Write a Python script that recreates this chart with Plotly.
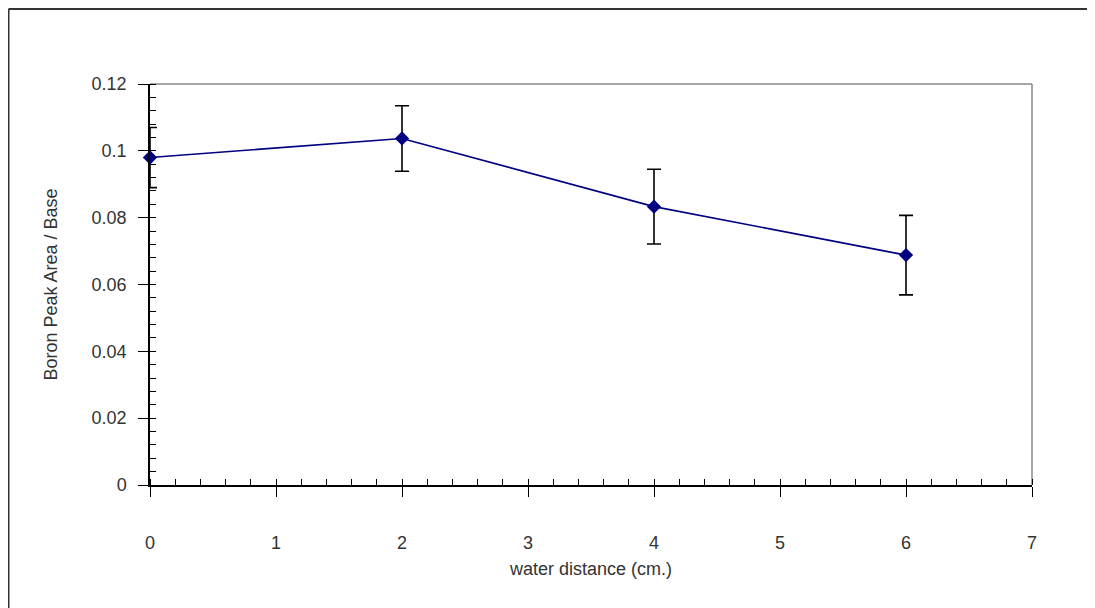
import plotly.graph_objects as go

distance = [0, 2, 4, 6]
ratio = [0.0980, 0.1037, 0.0833, 0.0688]
ratio_err = [0.0090, 0.0098, 0.0112, 0.0119]
x_ticks = [0, 1, 2, 3, 4, 5, 6, 7]
y_ticks = [0, 0.02, 0.04, 0.06, 0.08, 0.1, 0.12]
y_tick_text = ["0", "0.02", "0.04", "0.06", "0.08", "0.1", "0.12"]

# page body has an 8px margin, so the figure is drawn offset by 8px
OFF = 8
W, H = 1095 - OFF, 608 - OFF
L, R, T, B = 150 - OFF, 1032 - OFF, 84 - OFF, 485.5 - OFF

font = dict(family="Liberation Sans, Arial, sans-serif", size=18, color="#333333")

fig = go.Figure()
fig.add_trace(go.Scatter(
    x=distance, y=ratio, mode="lines+markers",
    line=dict(color="#000080", width=1.6),
    marker=dict(symbol="diamond", size=11, color="#000080"),
    error_y=dict(type="data", array=ratio_err, visible=True,
                 color="black", thickness=1.6, width=7),
    showlegend=False, cliponaxis=False,
))
# invisible trace on overlay axis for inside major x ticks
fig.add_trace(go.Scatter(x=[0], y=[0], xaxis="x2", mode="markers",
                         marker=dict(opacity=0), showlegend=False,
                         hoverinfo="skip"))

pw = R - L
ph = B - T
def px(xp):
    return (xp - L) / pw
def py(yp):
    return (B - yp) / ph

fig.update_layout(
    width=W, height=H,
    margin=dict(l=L, r=W - R, t=T, b=H - B, pad=0),
    paper_bgcolor="white", plot_bgcolor="white",
    font=font,
    xaxis=dict(
        range=[0, 7], tickvals=x_ticks, ticks="outside", ticklen=10,
        tickcolor="black", tickwidth=1, showgrid=False, zeroline=False,
        showline=True, linecolor="black", linewidth=1.5,
        ticklabelstandoff=31,
        minor=dict(dtick=0.2, ticks="inside", ticklen=6, tickcolor="black",
                   tickwidth=1, showgrid=False),
        title=dict(text="water distance (cm.)", font=dict(size=18, color="#333333"),
                   standoff=10),
    ),
    xaxis2=dict(
        range=[0, 7], tickvals=x_ticks, ticks="inside", ticklen=6,
        tickcolor="black", tickwidth=1, showticklabels=False,
        showgrid=False, zeroline=False, showline=False,
        overlaying="x", anchor="y", side="bottom",
    ),
    yaxis=dict(
        range=[0, 0.12], tickvals=y_ticks, ticktext=y_tick_text,
        ticks="outside", ticklen=10, tickcolor="black", tickwidth=1,
        showgrid=False, zeroline=False, showline=True, linecolor="black",
        linewidth=1.5, ticklabelstandoff=8,
        minor=dict(dtick=0.004, ticks="inside", ticklen=6, tickcolor="black",
                   tickwidth=1, showgrid=False),
        title=dict(text="Boron Peak Area / Base", font=dict(size=18, color="#333333"),
                   standoff=29),
    ),
    shapes=[
        # gray top and right plot border
        dict(type="line", xref="paper", yref="paper", x0=0, x1=1, y0=1, y1=1,
             line=dict(color="#888888", width=1.5), layer="below"),
        dict(type="line", xref="paper", yref="paper", x0=1, x1=1, y0=0, y1=1,
             line=dict(color="#888888", width=1.5), layer="below"),
        # outer frame
        dict(type="line", xref="paper", yref="paper", x0=px(0.5), x1=px(W + 10),
             y0=py(1), y1=py(1), line=dict(color="#333333", width=2)),
        dict(type="line", xref="paper", yref="paper", x0=px(0.5), x1=px(0.5),
             y0=py(1), y1=py(H + 10), line=dict(color="#333333", width=2)),
    ],
)

fig.write_html("out.html")
